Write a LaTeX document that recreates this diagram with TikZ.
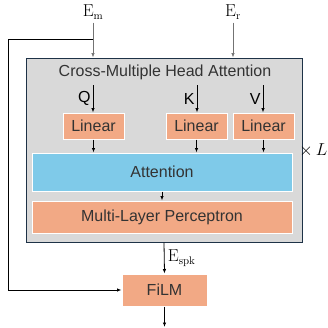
\documentclass[tikz,border=0pt]{standalone}
\usepackage{amsmath,amssymb}
\usepackage[no-math]{fontspec}
\setmainfont{Liberation Sans}
\usetikzlibrary{arrows.meta}

\definecolor{salmon}{HTML}{F2A985}
\definecolor{skyb}{HTML}{7FCAE9}
\definecolor{blockgray}{HTML}{D9D9D9}
\definecolor{blockedge}{HTML}{1E3247}
\definecolor{txtgray}{HTML}{333333}

\tikzset{
  every node/.style={font=\fontsize{16}{19}\selectfont},
  box/.style={draw=white, line width=1pt, inner sep=0pt, text=txtgray},
  arr/.style={-{Latex[length=4.5pt,width=3.5pt]}, line width=0.8pt},
  garr/.style={arr, draw=gray!90!black, line width=0.7pt}
}

\begin{document}
\begin{tikzpicture}[x=1pt,y=-1pt]
\useasboundingbox (0,0) rectangle (328,327);

% inputs
\node (em) at (93,12) {$\mathrm{E}_{\mathrm{m}}$};
\node (er) at (233,12) {$\mathrm{E}_{\mathrm{r}}$};

% stacked block
\node [draw=blockedge, line width=1pt, fill=blockgray, minimum width=276pt, minimum height=184pt, inner sep=0pt] (blk) at (164,150) {};
\node [text=txtgray] (title) at (165,72) {Cross-Multiple Head Attention};
\node [anchor=east, inner sep=0.5pt] (times) at (328,150) {$\times\, L$};

% projections
\node [box, fill=salmon, minimum width=61pt, minimum height=26pt] (linq) at (93.5,126) {Linear};
\node [box, fill=salmon, minimum width=61pt, minimum height=26pt] (link) at (196.5,126) {Linear};
\node [box, fill=salmon, minimum width=61pt, minimum height=26pt] (linv) at (263.5,126) {Linear};

\node [box, fill=skyb, minimum width=260pt, minimum height=38pt] (att) at (162,172) {Attention};
\node [box, fill=salmon, minimum width=260pt, minimum height=32pt] (mlp) at (162,217) {Multi-Layer Perceptron};

\node [box, fill=salmon, minimum width=85pt, minimum height=32pt] (film) at (164.5,290) {FiLM};

% arrows into block
\draw [garr] (em.south) -- (em |- blk.north);
\draw [garr] (er.south) -- (er |- blk.north);

% Q K V
\coordinate (qtop) at (93,85);
\coordinate (ktop) at (197,85);
\coordinate (vtop) at (263,85);
\draw [arr] (qtop) -- (qtop |- linq.north) node [midway, left, inner sep=2pt] {Q};
\draw [arr] (ktop) -- (ktop |- link.north) node [midway, left, inner sep=2pt] {K};
\draw [arr] (vtop) -- (vtop |- linv.north) node [midway, left, inner sep=2pt] {V};

\draw [arr] (linq.south) -- (linq.south |- att.north);
\draw [arr] (link.south) -- (link.south |- att.north);
\draw [arr] (linv.south) -- (linv.south |- att.north);
\draw [arr] (att.south) -- (mlp.north);

% output
\draw [arr] (blk.south) -- (film.north) node [midway, right] {$\mathrm{E}_{\mathrm{spk}}$};
\coordinate (out) at (164.5,327);
\draw [arr] (film.south) -- (out);

% skip path to FiLM
\coordinate (tap) at (93,39);
\coordinate (corner) at (8,39);
\draw [line width=0.8pt] (tap) -- (corner);
\draw [arr] (corner) |- (film.west);
\end{tikzpicture}
\end{document}
